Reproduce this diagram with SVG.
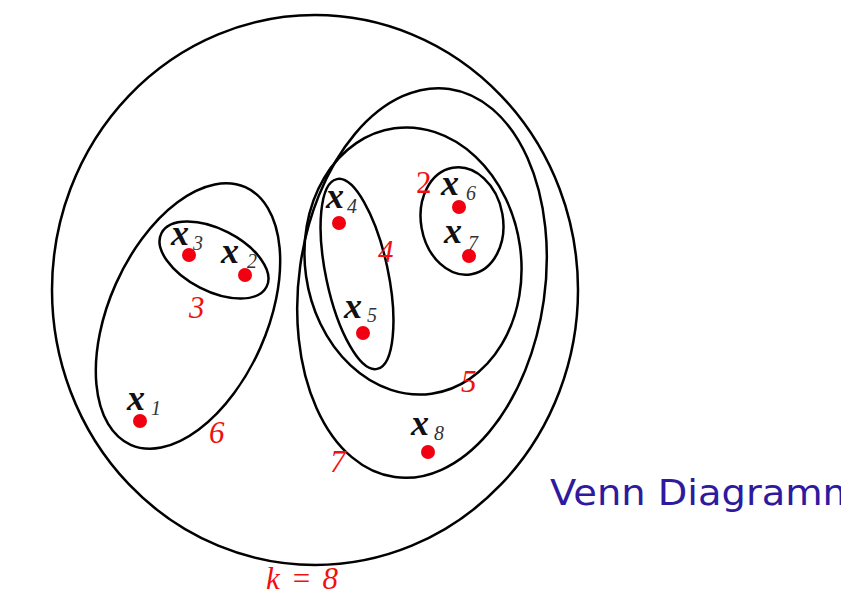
<svg xmlns="http://www.w3.org/2000/svg" width="841" height="597" viewBox="0 0 841 597">
<style>
.set{fill:none;stroke:#000;stroke-width:2.5}
.dot{fill:#f00010}
.x{font-family:"Liberation Serif",serif;font-style:italic;font-weight:bold;font-size:36px;fill:#111}
.sub{font-family:"Liberation Serif",serif;font-style:italic;font-size:20px;fill:#333}
.num{font-family:"Liberation Serif",serif;font-style:italic;font-size:31px;fill:#f01010}
.title{font-family:"DejaVu Sans","Liberation Sans",sans-serif;font-size:36px;fill:#2e1a9e}
</style>
<rect width="841" height="597" fill="#fff"/>
<g id="connectors"></g>
<g id="set8"><ellipse class="set" cx="315" cy="290" rx="263" ry="275"/><text class="num" x="266" y="589" textLength="72">k = 8</text></g>
<g id="set6"><ellipse class="set" cx="188" cy="316" rx="141" ry="79" transform="rotate(-66 188 316)"/><text class="num" x="209" y="443">6</text></g>
<g id="set3"><ellipse class="set" cx="214" cy="260" rx="59" ry="31" transform="rotate(27 214 260)"/><text class="num" x="189" y="318">3</text></g>
<g id="set7"><ellipse class="set" cx="422" cy="283" rx="123" ry="196" transform="rotate(8 422 283)"/><text class="num" x="330" y="472">7</text></g>
<g id="set5"><ellipse class="set" cx="413" cy="261" rx="108" ry="134" transform="rotate(-8 413 261)"/><text class="num" x="461" y="392">5</text></g>
<g id="set4"><ellipse class="set" cx="357" cy="274" rx="31" ry="97" transform="rotate(-12 357 274)"/><text class="num" x="378" y="262">4</text></g>
<g id="set2"><ellipse class="set" cx="462" cy="221" rx="41" ry="54" transform="rotate(-10 462 221)"/><text class="num" x="416" y="193" style="font-style:normal">2</text></g>
<g id="x1"><circle class="dot" cx="140" cy="421" r="7"/><text class="x" x="127" y="410">x</text><text class="sub" x="151" y="415">1</text></g>
<g id="x2"><circle class="dot" cx="245" cy="275" r="7"/><text class="x" x="221" y="263">x</text><text class="sub" x="247" y="268">2</text></g>
<g id="x3"><circle class="dot" cx="189" cy="255" r="7"/><text class="x" x="171" y="245">x</text><text class="sub" x="193" y="250">3</text></g>
<g id="x4"><circle class="dot" cx="339" cy="223" r="7"/><text class="x" x="326" y="208">x</text><text class="sub" x="347" y="213">4</text></g>
<g id="x5"><circle class="dot" cx="363" cy="333" r="7"/><text class="x" x="344" y="318">x</text><text class="sub" x="367" y="322">5</text></g>
<g id="x6"><circle class="dot" cx="459" cy="207" r="7"/><text class="x" x="441" y="195">x</text><text class="sub" x="466" y="200">6</text></g>
<g id="x7"><circle class="dot" cx="469" cy="256" r="7"/><text class="x" x="444" y="243">x</text><text class="sub" x="468" y="250">7</text></g>
<g id="x8"><circle class="dot" cx="428" cy="452" r="7"/><text class="x" x="411" y="435">x</text><text class="sub" x="434" y="440">8</text></g>
<text class="title" x="550" y="505" textLength="310" lengthAdjust="spacingAndGlyphs">Venn Diagramm</text>
</svg>
